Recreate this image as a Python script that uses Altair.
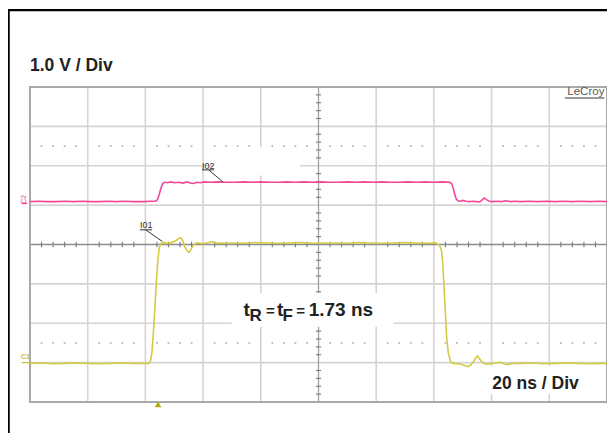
import altair as alt
import pandas as pd

# ---------------- data (time in ns, voltage in V) ----------------
pink_t = [0, 3, 6, 9, 12, 15, 18, 21, 24, 27, 30, 33, 36, 39, 42,
          43.6, 44.2, 44.8, 45.3, 45.8, 46.3, 46.9, 47.6,
          48.8, 50.2, 51.6, 53.0, 54.4, 55.6, 56.7, 57.8, 59.0, 60.5, 62.5,
          65, 68, 71, 74, 77, 80, 83, 86, 89, 92, 95, 98, 101, 104,
          107, 110, 113, 116, 119, 122, 125, 128, 131, 134, 137, 140, 143, 145.6,
          146.2, 146.7, 147.2, 147.7, 148.3, 149.0,
          150.0, 151.2, 152.4, 153.6, 154.8, 155.8, 156.6, 157.4, 158.2, 159.2, 160.5,
          162, 163.5, 165, 166.5, 168, 170, 173, 176, 179, 182, 185, 188, 191, 194, 197, 200]
pink_v = [1.09, 1.10, 1.09, 1.09, 1.10, 1.09, 1.10, 1.09, 1.09, 1.10, 1.09, 1.10, 1.09, 1.09, 1.10,
          1.10, 1.14, 1.27, 1.41, 1.52, 1.57, 1.58, 1.57,
          1.59, 1.57, 1.58, 1.56, 1.59, 1.56, 1.55, 1.58, 1.57, 1.59, 1.58,
          1.59, 1.58, 1.58, 1.59, 1.58, 1.59, 1.58,
          1.58, 1.59, 1.58, 1.59, 1.58, 1.59, 1.58,
          1.58, 1.59, 1.58, 1.59, 1.58, 1.59, 1.58,
          1.58, 1.59, 1.58, 1.59, 1.58, 1.59, 1.58,
          1.54, 1.43, 1.28, 1.16, 1.11, 1.10,
          1.12, 1.10, 1.09, 1.10, 1.09, 1.08, 1.12, 1.18, 1.14, 1.10, 1.09,
          1.10, 1.09, 1.11, 1.09, 1.10, 1.09, 1.10, 1.09, 1.10, 1.09, 1.10, 1.09, 1.10, 1.09, 1.10, 1.09]

yellow_t = [0, 4, 8, 12, 16, 20, 24, 28, 32, 36, 40,
            41.2, 41.8, 42.3, 42.8, 43.3, 43.8, 44.3, 44.8, 45.4,
            46.5, 48, 49.5, 50.8, 51.6, 52.3, 53.0, 53.7, 54.4, 55.1, 55.9, 56.8, 58, 60, 62, 63.5, 65, 67,
            70, 74, 78, 82, 86, 90, 94, 98, 102, 106, 110, 114, 118, 122, 126, 130, 134, 138, 140.5,
            141.9, 142.6, 143.1, 143.5, 144.0, 144.4, 145.0, 145.8, 146.7,
            148, 149.5, 150.8, 151.9, 152.8, 153.7, 154.4, 155.1, 155.8, 156.6, 157.5, 158.4, 160, 161.5, 163, 164.2, 165.3, 167,
            170, 174, 178, 182, 186, 190, 194, 198, 200]
yellow_v = [-3.02, -3.01, -3.03, -3.02, -3.01, -3.02, -3.03, -3.02, -3.01, -3.02, -3.02,
            -3.02, -2.95, -2.72, -2.2, -1.6, -0.95, -0.4, -0.08, 0.03,
            0.05, 0.03, 0.06, 0.11, 0.16, 0.17, 0.09, -0.06, -0.16, -0.2, -0.11, 0.0, 0.04, 0.02, 0.05, 0.07, 0.03, 0.04,
            0.04, 0.03, 0.05, 0.04, 0.03, 0.04, 0.05, 0.03, 0.04, 0.04, 0.03, 0.05, 0.04, 0.03, 0.04, 0.05, 0.04, 0.03, 0.04,
            -0.01, -0.14, -0.48, -1.07, -1.75, -2.34, -2.76, -2.98, -3.02,
            -3.03, -3.04, -3.08, -3.10, -3.06, -2.98, -2.89, -2.83, -2.9, -2.98, -3.02, -3.04, -3.02, -3.01, -2.99, -3.03, -3.05, -3.02,
            -3.02, -3.01, -3.03, -3.02, -3.01, -3.02, -3.03, -3.02, -3.02]

grid_t = [20, 40, 60, 80, 120, 140, 160, 180]
grid_v = [-3, -2, -1, 1, 2, 3]
minor_t = [t for t in range(4, 200, 4) if t % 20 != 0]
minor_v = [round(-4 + 0.2 * i, 1) for i in range(1, 40) if i % 5 != 0]
dot_levels = [2.5, -2.5]

volt_label = "1.0 V / Div"
time_label = "20 ns / Div"
rise_pieces = ["t", "t", "1.73 ns"]
rise_pieces_t = [74.0, 85.6, 96.6]
rise_eq_t = [81.8, 92.3]
rise_subs = ["R", "F"]
rise_subs_t = [76.1, 87.5]

# white label backgrounds (data units)
mask_t0 = [63.4, 69.9, 157.7]
mask_t1 = [93.6, 126.0, 196.0]
mask_v0 = [1.75, -2.09, -3.80]
mask_v1 = [2.47, -1.24, -3.09]

# ---------------- scales ----------------
XS = alt.Scale(domain=[0, 200], nice=False, zero=False)
YS = alt.Scale(domain=[-4, 4], nice=False, zero=False)


def X(f):
    return alt.X(f, type="quantitative", scale=XS, axis=None)


def Y(f):
    return alt.Y(f, type="quantitative", scale=YS, axis=None)


FONT = "Liberation Sans"

# frame
frame_top = alt.Chart(pd.DataFrame({"t0": [-7.4], "t1": [206], "v": [5.95]})).mark_rule(
    color="black", strokeWidth=2.2).encode(x=X("t0"), x2="t1", y=Y("v"))
frame_left = alt.Chart(pd.DataFrame({"t": [-7.4], "v0": [5.98], "v1": [-5.5]})).mark_rule(
    color="black", strokeWidth=2.2).encode(x=X("t"), y=Y("v0"), y2="v1")

# grid
grid_vert = alt.Chart(pd.DataFrame({"t": grid_t, "v0": -4, "v1": 4})).mark_rule(
    color="#d4d4d4", strokeWidth=1.6).encode(x=X("t"), y=Y("v0"), y2="v1")
grid_hor = alt.Chart(pd.DataFrame({"v": grid_v, "t0": 0, "t1": 200})).mark_rule(
    color="#d4d4d4", strokeWidth=1.6).encode(y=Y("v"), x=X("t0"), x2="t1")
center_vert = alt.Chart(pd.DataFrame({"t": [100], "v0": [-4], "v1": [4]})).mark_rule(
    color="#a0a0a0", strokeWidth=1.3).encode(x=X("t"), y=Y("v0"), y2="v1")
center_hor = alt.Chart(pd.DataFrame({"v": [0], "t0": [0], "t1": [200]})).mark_rule(
    color="#8c8c8c", strokeWidth=1.4).encode(y=Y("v"), x=X("t0"), x2="t1")
ticks_h = alt.Chart(pd.DataFrame({"t": minor_t, "v0": -0.07, "v1": 0.07})).mark_rule(
    color="#7a7a7a", strokeWidth=1.1).encode(x=X("t"), y=Y("v0"), y2="v1")
ticks_v = alt.Chart(pd.DataFrame({"v": minor_v, "t0": 99.1, "t1": 100.9})).mark_rule(
    color="#7a7a7a", strokeWidth=1.1).encode(y=Y("v"), x=X("t0"), x2="t1")
dots = alt.Chart(pd.DataFrame({"t": minor_t * 2,
                               "v": [dot_levels[0]] * len(minor_t) + [dot_levels[1]] * len(minor_t)})).mark_square(
    size=3, color="#b4b4b4", opacity=1).encode(x=X("t"), y=Y("v"))
border = alt.Chart(pd.DataFrame({"t0": [0], "t1": [200], "v0": [-4], "v1": [4]})).mark_rect(
    fillOpacity=0, stroke="#a9a9a9", strokeWidth=2).encode(x=X("t0"), x2="t1", y=Y("v0"), y2="v1")

masks = alt.Chart(pd.DataFrame({"t0": mask_t0, "t1": mask_t1, "v0": mask_v0, "v1": mask_v1})).mark_rect(
    color="white", opacity=1).encode(x=X("t0"), x2="t1", y=Y("v0"), y2="v1")

# traces
pink = alt.Chart(pd.DataFrame({"t": pink_t, "v": pink_v})).mark_line(
    color="#f5479a", strokeWidth=1.6, interpolate="linear").encode(x=X("t"), y=Y("v"), order="t:Q")
yellow = alt.Chart(pd.DataFrame({"t": yellow_t, "v": yellow_v})).mark_line(
    color="#d1cb45", strokeWidth=1.6, interpolate="linear").encode(x=X("t"), y=Y("v"), order="t:Q")

# big labels
big = alt.Chart(pd.DataFrame({"t": [0, 160.2], "v": [4.394, -3.67], "label": [volt_label, time_label]})).mark_text(
    align="left", baseline="alphabetic", font=FONT, fontSize=17.5, fontWeight="bold", color="#222222").encode(
    x=X("t"), y=Y("v"), text="label:N")
rise_main = alt.Chart(pd.DataFrame({"t": rise_pieces_t, "v": -1.824, "label": rise_pieces})).mark_text(
    align="left", baseline="alphabetic", font=FONT, fontSize=19, fontWeight="bold", color="#222222").encode(
    x=X("t"), y=Y("v"), text="label:N")
rise_eq = alt.Chart(pd.DataFrame({"t": rise_eq_t, "v": -1.824, "label": ["=", "="]})).mark_text(
    align="left", baseline="alphabetic", font=FONT, fontSize=15, fontWeight="bold", color="#222222").encode(
    x=X("t"), y=Y("v"), text="label:N")
rise_sub = alt.Chart(pd.DataFrame({"t": rise_subs_t, "v": -1.943, "label": rise_subs})).mark_text(
    align="left", baseline="alphabetic", font=FONT, fontSize=17, fontWeight="bold", color="#222222").encode(
    x=X("t"), y=Y("v"), text="label:N")

lecroy = alt.Chart(pd.DataFrame({"t": [199.1], "v": [3.80], "label": ["LeCroy"]})).mark_text(
    align="right", baseline="alphabetic", font=FONT, fontSize=11.5, color="#5a5a5a").encode(
    x=X("t"), y=Y("v"), text="label:N")
lecroy_ul = alt.Chart(pd.DataFrame({"t0": [185.4], "t1": [199.1], "v": [3.72]})).mark_rule(
    color="#7a7a7a", strokeWidth=1.5).encode(x=X("t0"), x2="t1", y=Y("v"))

# probe labels
io_lab = alt.Chart(pd.DataFrame({"t": [59.6, 38.1], "v": [1.93, 0.411], "label": ["I02", "I01"]})).mark_text(
    align="left", baseline="alphabetic", font=FONT, fontSize=9, color="#333333").encode(
    x=X("t"), y=Y("v"), text="label:N")
io_ul = alt.Chart(pd.DataFrame({"t0": [59.6, 38.1], "t1": [63.8, 42.3], "v": [1.895, 0.373]})).mark_rule(
    color="#333333", strokeWidth=1).encode(x=X("t0"), x2="t1", y=Y("v"))
io_lead = alt.Chart(pd.DataFrame({"t0": [62.0, 40.2], "t1": [66.9, 45.9], "v0": [1.892, 0.368], "v1": [1.587, 0.076]})).mark_rule(
    color="#333333", strokeWidth=1).encode(x=X("t0"), x2="t1", y=Y("v0"), y2="v1")

# channel markers
c1_lab = alt.Chart(pd.DataFrame({"t": [-3.1], "v": [-2.92], "label": ["C1"]})).mark_text(
    align="left", baseline="alphabetic", font=FONT, fontSize=7, fontWeight="bold", color="#c4bd3a").encode(
    x=X("t"), y=Y("v"), text="label:N")
c1_line = alt.Chart(pd.DataFrame({"t0": [-2.8], "t1": [0], "v": [-3.0]})).mark_rule(
    color="#c4bd3a", strokeWidth=1.3).encode(x=X("t0"), x2="t1", y=Y("v"))
c2_lab = alt.Chart(pd.DataFrame({"t": [-2.1], "v": [1.15], "label": ["C2"]})).mark_text(
    align="center", baseline="middle", angle=270, font=FONT, fontSize=7, color="#f5479a").encode(
    x=X("t"), y=Y("v"), text="label:N")
c2_line = alt.Chart(pd.DataFrame({"t0": [-2.9], "t1": [-1.0], "v": [1.04]})).mark_rule(
    color="#f5479a", strokeWidth=1.3).encode(x=X("t0"), x2="t1", y=Y("v"))

# trigger markers
trig_time = alt.Chart(pd.DataFrame({"t": [44.4], "v": [-4.06]})).mark_point(
    shape="triangle-up", filled=True, size=45, color="#b3ab0a", opacity=1).encode(x=X("t"), y=Y("v"))
trig_level = alt.Chart(pd.DataFrame({"t": [200.9], "v": [-1.40]})).mark_point(
    shape="triangle-left", filled=True, size=35, color="#b3ab0a", opacity=1).encode(x=X("t"), y=Y("v"))

chart = alt.layer(
    frame_top, frame_left,
    grid_vert, grid_hor, dots, center_vert, center_hor, ticks_h, ticks_v, border,
    masks,
    big, rise_main, rise_eq, rise_sub, lecroy, lecroy_ul,
    pink, yellow,
    io_lab, io_ul, io_lead, c1_lab, c1_line, c2_lab, c2_line,
    trig_time, trig_level,
).properties(
    width=577, height=315,
    padding={"left": 22, "top": 79, "right": 0, "bottom": 31},
    autosize=alt.AutoSizeParams(type="none"),
    background="white",
).configure_view(strokeWidth=0)

chart.save("out.html", embed_options={"renderer": "svg", "actions": False})
